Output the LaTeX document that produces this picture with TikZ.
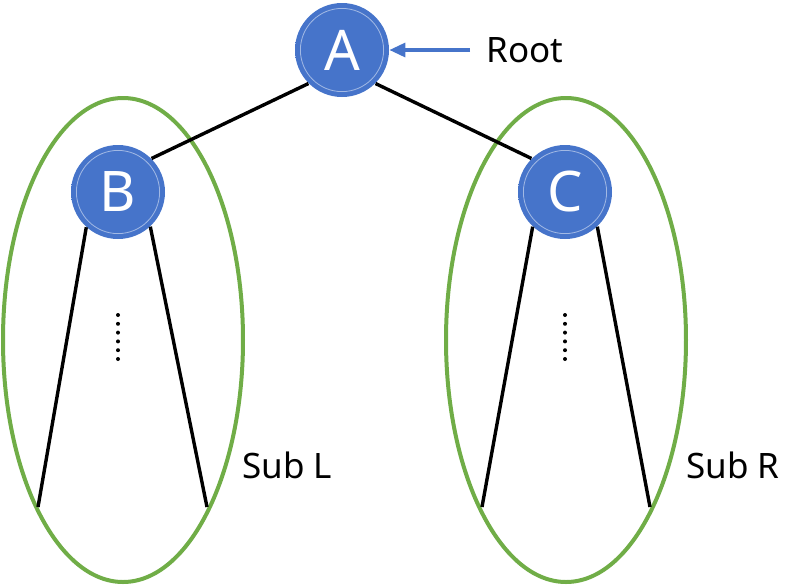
\documentclass[tikz,border=0pt]{standalone}
\usepackage{fontspec}
\setmainfont{Noto Sans}
\usetikzlibrary{arrows.meta}
\definecolor{nodeblue}{HTML}{4674CA}
\definecolor{nodedark}{HTML}{3E6BC2}
\definecolor{nodeedge}{HTML}{5C95EE}
\definecolor{subgreen}{HTML}{70AD47}
\pgfdeclareradialshading{nodeball}{\pgfpoint{0bp}{0bp}}{color(0bp)=(nodeblue); color(36bp)=(nodeblue); color(43.5bp)=(nodedark); color(44.5bp)=(nodeedge); color(50bp)=(nodeedge)}
\tikzset{
  treenode/.style={
    circle, minimum size=47pt, inner sep=0pt, shading=nodeball, text=white,
    font=\fontsize{28}{30}\selectfont,
    path picture={\draw[white,opacity=0.5,line width=0.4pt] (path picture bounding box.center) circle (20.8pt);}
  },
  treeline/.style={line width=1.7pt},
  subtree/.style={draw=subgreen, line width=2pt},
  tagtext/.style={font=\fontsize{17.5}{20}\selectfont, inner sep=0pt},
  rootarrow/.style={draw=nodeblue, line width=1.6pt, -{Triangle[length=8pt,width=7pt]}}
}

\begin{document}
\begin{tikzpicture}[x=0.5pt,y=-0.5pt]
\useasboundingbox (0,0) rectangle (800,585);
\draw[subtree] (123,340) ellipse [x radius=120, y radius=242];
\draw[subtree] (566,340) ellipse [x radius=120, y radius=242];

\node[treenode] (A) at (342,50) {A};
\node[treenode] (B) at (118,192) {B};
\node[treenode] (C) at (565,192) {C};

\coordinate (bL) at (38,507);
\coordinate (bR) at (207,507);
\coordinate (cL) at (482,507);
\coordinate (cR) at (650,507);

\draw[treeline] (A.225) -- (B.45);
\draw[treeline] (A.315) -- (C.135);
\draw[treeline] (B.228) -- (bL);
\draw[treeline] (B.313) -- (bR);
\draw[treeline] (C.227) -- (cL);
\draw[treeline] (C.313) -- (cR);

\foreach \i in {0,...,5} {
  \fill (118,{315+\i*8.8}) circle (1pt);
  \fill (565,{315+\i*8.8}) circle (1pt);
}

\node[tagtext, anchor=west] (Root) at (486,50) {Root};
\node[tagtext, anchor=west] (SubL) at (242,465) {Sub L};
\node[tagtext, anchor=west] (SubR) at (686,465) {Sub R};

\draw[rootarrow, shorten <=8pt] (Root.west) -- (A.east);
\end{tikzpicture}
\end{document}
